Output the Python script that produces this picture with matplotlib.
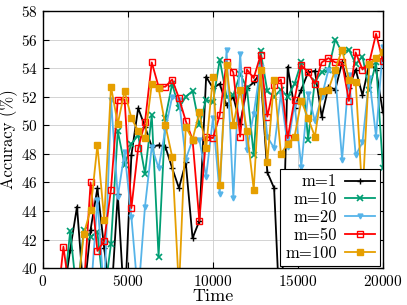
import matplotlib
matplotlib.use("Agg")
import matplotlib.pyplot as plt
import numpy as np

plt.rcParams["font.family"] = ["cmr10", "DejaVu Serif"]
plt.rcParams["axes.formatter.use_mathtext"] = True
plt.rcParams["axes.unicode_minus"] = False

# sampling times (every 400 steps)
time = np.arange(400, 20001, 400)

# accuracy per series, values below 40 fall outside the plot
acc_m1 = [36, 37, 38, 41.3, 44.3,
          38, 42.7, 45.6, 41.4, 37.5,
          45.2, 37, 47.9, 51.2, 49.9,
          48.5, 48.6, 48.5, 47.0, 45.6,
          47.4, 42.1, 43.3, 53.4, 52.6,
          52.9, 51.4, 52.0, 50.1, 52.6,
          53.0, 53.7, 46.7, 45.6, 35.0,
          54.1, 51.2, 52.5, 53.7, 53.8,
          50.6, 52.7, 52.5, 54.4, 52.6,
          53.9, 52.1, 54.3, 53.9, 50.9]
acc_m10 = [36, 37, 38, 42.6, 38,
           42.7, 42.2, 42.5, 38, 41.7,
           49.6, 47.2, 48.7, 49.3, 46.6,
           50.7, 40.8, 50.5, 52.9, 51.2,
           52.0, 52.4, 50.0, 51.8, 51.6,
           54.6, 52.0, 52.1, 53.6, 52.6,
           47.9, 55.2, 52.4, 52.0, 52.5,
           52.0, 52.9, 54.4, 49.0, 53.1,
           53.7, 53.9, 56.0, 55.1, 55.3,
           54.3, 54.8, 52.5, 54.4, 47.0]
acc_m20 = [36, 37, 37, 37, 37,
           37, 38, 44.8, 38, 51.8,
           45.0, 48.1, 43.6, 38, 44.3,
           48.5, 47.0, 49.7, 52.0, 51.8,
           47.6, 49.0, 49.0, 46.4, 50.5,
           45.2, 55.3, 44.9, 55.0, 48.3,
           50.8, 54.1, 49.2, 48.4, 52.2,
           48.5, 51.5, 47.1, 52.2, 50.3,
           52.0, 53.9, 53.5, 47.6, 53.5,
           47.9, 48.8, 53.3, 49.2, 55.5]
acc_m50 = [36, 37, 41.5, 38, 37.5,
           38.5, 46.0, 41.2, 41.9, 45.5,
           51.8, 51.8, 44.2, 48.4, 50.2,
           54.4, 52.7, 52.7, 53.2, 51.9,
           50.3, 49.0, 43.3, 49.2, 49.1,
           50.7, 54.4, 53.7, 49.2, 53.9,
           53.3, 54.9, 50.6, 52.8, 53.2,
           49.1, 51.8, 54.2, 53.7, 52.9,
           54.4, 54.7, 54.4, 54.4, 51.7,
           55.1, 53.9, 54.4, 56.4, 54.5]
acc_m100 = [36, 36, 37, 37, 38,
            42.4, 44.1, 48.6, 43.4, 52.7,
            50.1, 52.4, 50.5, 49.6, 49.1,
            52.9, 52.6, 50.0, 47.8, 38.5,
            49.9, 49.0, 50.9, 48.4, 53.4,
            45.8, 54.2, 50.0, 52.5, 49.6,
            45.5, 53.9, 47.4, 53.2, 48.0,
            48.7, 49.2, 51.7, 50.5, 49.2,
            52.4, 52.5, 53.9, 55.3, 53.2,
            53.0, 45.0, 54.3, 54.7, 55.1]

labels = ["m=1", "m=10", "m=20", "m=50", "m=100"]

fig = plt.figure(figsize=(4.07, 3.05), dpi=100)
ax = fig.add_axes([0.1057, 0.121, 0.835, 0.843])

ax.plot(time, acc_m1, color="black", lw=1.3, marker="+", ms=5, mew=1.0,
        label=labels[0])
ax.plot(time, acc_m10, color="#009E73", lw=1.3, marker="x", ms=4, mew=1.2,
        label=labels[1])
ax.plot(time, acc_m20, color="#56B4E9", lw=1.3, marker="v", ms=3.5,
        label=labels[2])
ax.plot(time, acc_m50, color="#FF0000", lw=1.3, marker="s", ms=4,
        mfc="none", mew=1.0, label=labels[3])
ax.plot(time, acc_m100, color="#E69F00", lw=1.3, marker="s", ms=4,
        label=labels[4])

ax.set_xlim(0, 20000)
ax.set_ylim(40, 58)
ax.set_xticks([0, 5000, 10000, 15000, 20000])
ax.set_yticks(np.arange(40, 59, 2))
ax.grid(True, color="#cccccc", lw=0.6)
ax.set_axisbelow(True)
ax.tick_params(direction="in", top=True, right=True, length=4,
               labelsize=11, pad=4)
for spine in ax.spines.values():
    spine.set_linewidth(1.0)

ax.set_xlabel("Time", fontsize=13, labelpad=0)
ax.set_ylabel("Accuracy (%)", fontsize=12, labelpad=2)

leg = ax.legend(loc="lower right", markerfirst=False, fontsize=12,
                frameon=True, fancybox=False, framealpha=1,
                edgecolor="black", borderaxespad=0.15, handlelength=1.8,
                labelspacing=0.15, borderpad=0.3, handletextpad=0.5)
leg.get_frame().set_linewidth(0.8)

fig.savefig("out.png", dpi=100)
